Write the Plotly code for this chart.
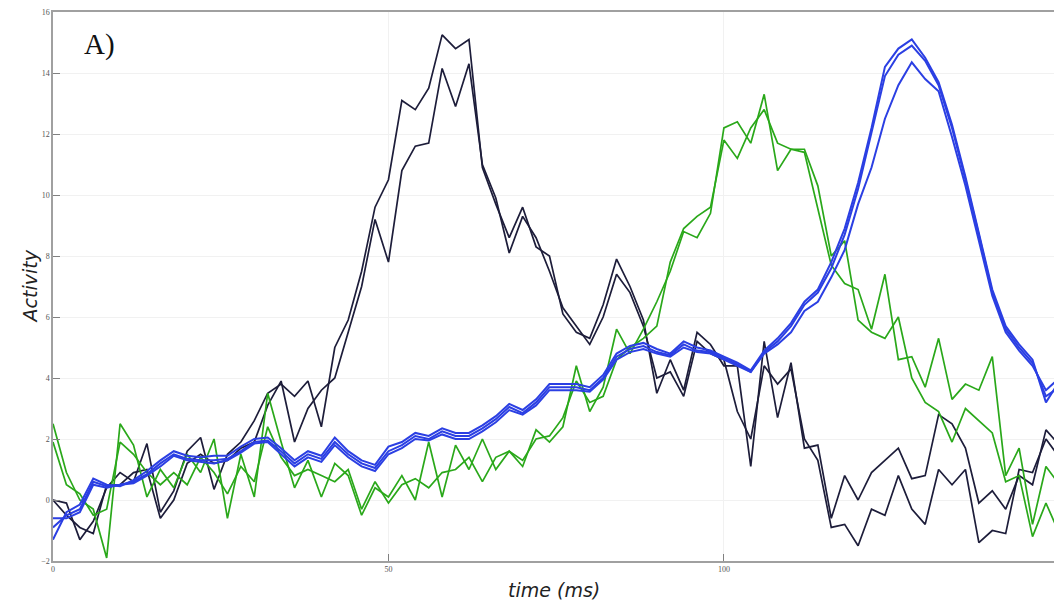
import plotly.graph_objects as go

# time axis (ms)
time_ms = list(range(0, 152, 2))

# dark (navy) traces
dark_1 = [0.0, -0.1, -1.3, -0.7, 0.4, 0.9, 0.6, 1.85, -0.4, 0.3,
          1.6, 2.05, 0.35, 1.5, 1.9, 2.6, 3.5, 3.8, 3.4, 3.9,
          2.4, 5.0, 5.9, 7.5, 9.6, 10.5, 13.1, 12.8, 13.5, 15.25,
          14.8, 15.1, 10.9, 9.7, 8.6, 9.6, 8.3, 8.0, 6.1, 5.5,
          5.3, 6.4, 7.9, 7.0, 5.9, 3.5, 4.6, 3.6, 5.5, 5.1,
          4.4, 4.4, 1.1, 5.2, 2.7, 4.5, 1.7, 1.8, -0.6, 0.8,
          0.0, 0.9, 1.3, 1.7, 0.7, 0.8, 2.8, 2.5, 1.7, -0.1,
          0.3, -0.3, 0.8, 0.5, 2.3, 1.8]
dark_2 = [0.0, -0.5, -0.9, -1.1, 0.5, 0.5, 0.9, 1.0, -0.6, 0.0,
          1.2, 1.5, 1.2, 1.3, 1.7, 1.9, 3.1, 3.9, 1.9, 3.0,
          3.6, 4.0, 5.5, 7.0, 9.2, 7.8, 10.8, 11.6, 11.7, 14.15,
          12.9, 14.3, 11.0, 9.9, 8.1, 9.3, 8.6, 7.5, 6.3, 5.7,
          5.1, 6.0, 7.4, 6.8, 5.7, 4.0, 4.2, 3.4, 5.2, 4.8,
          4.6, 2.9, 2.0, 4.4, 3.8, 4.3, 2.0, 1.3, -0.9, -0.8,
          -1.5, -0.3, -0.5, 0.8, -0.3, -0.8, 1.0, 0.5, 1.0, -1.4,
          -1.0, -1.1, 1.0, 0.9, 2.0, 1.4]

# green traces
green_1 = [2.5, 0.9, 0.0, -0.3, -1.9, 2.5, 1.8, 0.1, 1.0, 0.4,
           1.5, 0.9, 2.0, -0.6, 1.5, 0.1, 3.5, 1.9, 0.4, 1.3,
           0.1, 1.2, 0.8, -0.5, 0.4, 0.1, 0.8, 0.0, 1.9, 0.1,
           1.8, 1.0, 2.0, 1.0, 1.6, 1.1, 2.3, 1.9, 2.4, 4.4,
           2.9, 3.7, 5.6, 4.8, 5.6, 6.5, 7.5, 8.8, 8.6, 9.4,
           12.2, 12.4, 11.7, 13.3, 10.8, 11.5, 11.4, 9.5, 7.7, 7.1,
           6.9, 5.6, 7.4, 4.6, 4.7, 3.7, 5.3, 3.3, 3.8, 3.6,
           4.7, 0.8, 1.7, -0.8, 1.1, 0.5]
green_2 = [1.9, 0.5, 0.2, -0.5, -0.3, 1.9, 1.5, 0.9, 0.5, 0.9,
           0.5, 1.4, 0.9, 0.2, 1.1, 0.6, 2.4, 1.4, 0.8, 1.0,
           0.8, 0.6, 1.0, -0.3, 0.6, -0.1, 0.5, 0.7, 0.4, 0.9,
           1.0, 1.4, 0.6, 1.4, 1.6, 1.3, 2.0, 2.1, 2.7, 3.9,
           3.2, 3.4, 4.6, 5.0, 5.3, 5.7, 7.8, 8.9, 9.3, 9.6,
           11.8, 11.2, 12.2, 12.8, 11.7, 11.5, 11.5, 10.3, 8.0, 8.5,
           5.9, 5.5, 5.3, 6.0, 4.0, 3.2, 2.9, 1.9, 3.0, 2.6,
           2.2, 0.6, 0.8, -1.2, -0.1, -1.1]

# blue traces
blue_1 = [-1.3, -0.4, -0.15, 0.7, 0.5, 0.45, 0.65, 0.95, 1.3, 1.6,
          1.45, 1.4, 1.45, 1.45, 1.75, 2.0, 2.05, 1.7, 1.3, 1.6,
          1.45, 2.05, 1.6, 1.3, 1.15, 1.75, 1.9, 2.2, 2.1, 2.35,
          2.2, 2.2, 2.45, 2.75, 3.15, 2.95, 3.3, 3.8, 3.8, 3.8,
          3.7, 4.1, 4.8, 5.05, 5.15, 4.95, 4.8, 5.2, 5.0, 4.9,
          4.7, 4.5, 4.25, 4.9, 5.3, 5.8, 6.5, 6.9, 7.8, 8.9,
          10.4, 12.2, 14.2, 14.8, 15.1, 14.5, 13.7, 12.3, 10.6, 8.8,
          6.9, 5.7, 5.1, 4.6, 3.2, 3.9]
blue_2 = [-0.9, -0.5, -0.3, 0.6, 0.45, 0.5, 0.6, 0.85, 1.2, 1.5,
          1.35, 1.3, 1.3, 1.35, 1.6, 1.9, 1.95, 1.6, 1.2, 1.5,
          1.35, 1.9, 1.5, 1.2, 1.05, 1.6, 1.8, 2.1, 2.0, 2.25,
          2.1, 2.1, 2.35, 2.65, 3.05, 2.85, 3.2, 3.7, 3.7, 3.7,
          3.6, 4.0, 4.7, 4.95, 5.05, 4.85, 4.75, 5.1, 4.9, 4.85,
          4.65, 4.45, 4.2, 4.85, 5.2, 5.7, 6.4, 6.8, 7.6, 8.7,
          10.2, 12.0, 13.9, 14.6, 14.9, 14.4, 13.6, 12.2, 10.5, 8.7,
          6.8, 5.6, 5.0, 4.5, 3.4, 3.7]
blue_3 = [-0.6, -0.6, -0.4, 0.5, 0.4, 0.5, 0.55, 0.8, 1.1, 1.45,
          1.3, 1.25, 1.2, 1.3, 1.55, 1.85, 1.9, 1.5, 1.1, 1.4,
          1.25, 1.8, 1.4, 1.1, 0.95, 1.5, 1.7, 2.0, 1.95, 2.15,
          2.0, 2.0, 2.25, 2.55, 2.95, 2.8, 3.1, 3.6, 3.6, 3.6,
          3.55, 3.95, 4.6, 4.85, 4.95, 4.8, 4.7, 5.0, 4.85, 4.8,
          4.6, 4.4, 4.2, 4.8, 5.1, 5.5, 6.2, 6.5, 7.3, 8.2,
          9.7, 10.9, 12.5, 13.6, 14.35, 13.8, 13.4, 11.9, 10.3, 8.5,
          6.7, 5.5, 4.9, 4.4, 3.6, 4.0]

x_ticks = [0, 50, 100, 150]
y_ticks = [-2, 0, 2, 4, 6, 8, 10, 12, 14, 16]

DARK = "#1d1d3a"
GREEN = "#2aa81a"
BLUE = "#2b3fe3"

fig = go.Figure()
series = [
    (dark_1, DARK, 1.7), (dark_2, DARK, 1.7),
    (green_1, GREEN, 1.7), (green_2, GREEN, 1.7),
    (blue_1, BLUE, 2.0), (blue_2, BLUE, 2.0), (blue_3, BLUE, 2.0),
]
for ys, col, w in series:
    fig.add_trace(go.Scatter(x=time_ms, y=ys, mode="lines",
                             line=dict(color=col, width=w),
                             showlegend=False, hoverinfo="skip"))

axis_common = dict(
    showgrid=True, gridcolor="#f1f1f1", gridwidth=1,
    showline=True, linecolor="#a0a0a0", linewidth=1.5,
    ticks="inside", ticklen=7, tickcolor="#808080", tickwidth=1,
    tickfont=dict(family="Liberation Serif", size=8, color="#555555"),
    zeroline=False,
)

fig.update_layout(
    width=1054, height=603,
    margin=dict(l=53, r=0, t=12, b=42),
    paper_bgcolor="white", plot_bgcolor="white",
    xaxis=dict(range=[0, 149.2], tickvals=x_ticks, mirror=True, **axis_common),
    yaxis=dict(range=[-2, 16], tickvals=y_ticks, **axis_common),
    annotations=[
        dict(text="A)", xref="paper", yref="paper", x=0.046, y=0.94,
             xanchor="center", yanchor="middle", showarrow=False,
             font=dict(family="Liberation Serif", size=29, color="#111111")),
        dict(text="<i>Activity</i>", xref="paper", yref="paper", x=-0.023, y=0.5,
             xanchor="center", yanchor="middle", textangle=-90, showarrow=False,
             font=dict(family="DejaVu Sans", size=19, color="#222222")),
        dict(text="<i>time (ms)</i>", xref="paper", yref="paper", x=0.5, y=-0.053,
             xanchor="center", yanchor="middle", showarrow=False,
             font=dict(family="DejaVu Sans", size=19, color="#222222")),
    ],
)

fig.write_html(
    "out.html",
    config={"displayModeBar": False},
    post_script="document.body.style.margin='0px';document.body.style.overflow='hidden';",
)
